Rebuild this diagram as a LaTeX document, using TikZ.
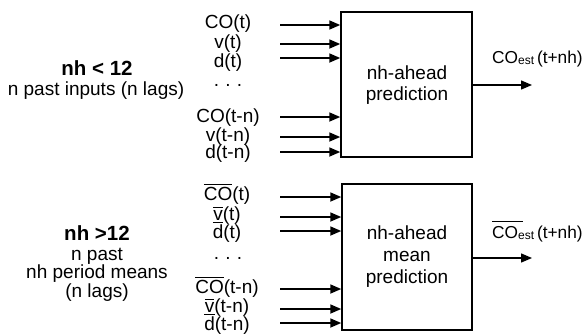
\documentclass[tikz,border=0pt]{standalone}
\usepackage{fontspec}
\setmainfont{Liberation Sans}
\usetikzlibrary{arrows.meta}
% bar over a piece of text, drawn as a rule
\newcommand{\ovl}[1]{\leavevmode\vbox{\hrule height 1.1pt\kern 1.6pt\hbox{#1}}}
% "est" index written small, just under the base line
\newcommand{\est}{\raisebox{-1.5pt}{\fontsize{12}{13}\selectfont est}}
\begin{document}
\begin{tikzpicture}[x=1pt,y=-1pt,
  txt/.style={inner sep=0pt,anchor=base,font=\fontsize{19}{21}\selectfont},
  hdr/.style={txt,font=\fontsize{20.5}{22}\selectfont\bfseries},
  outlbl/.style={inner sep=0pt,anchor=base west,font=\fontsize{17.3}{19}\selectfont},
  blk/.style={draw,line width=1.5pt,inner sep=0pt},
  inarr/.style={line width=1.7pt,-{Triangle[length=11pt,width=9pt]}},
  outarr/.style={line width=1.3pt,-{Triangle[length=11pt,width=9pt]}}]
\useasboundingbox (0,0) rectangle (585,335);

% ---------- upper block: nh < 12 ----------
\node[blk,minimum width=131pt,minimum height=145pt] (b1) at (406.5,84.5) {};
\node[txt] (b1t1) at (407,79) {nh-ahead};
\node[txt] (b1t2) at (407,100) {prediction};

\node[hdr] (h1) at (97,75) {nh < 12};
\node[txt] (h1b) at (96,95) {n past inputs (n lags)};

\node[txt] (l1) at (228,28) {CO(t)};
\node[txt] (l2) at (228,48) {v(t)};
\node[txt] (l3) at (228,67) {d(t)};
\node[txt] (l4) at (228,86) {.\,\,.\,\,.};
\node[txt] (l5) at (228,122) {CO(t-n)};
\node[txt] (l6) at (228,141) {v(t-n)};
\node[txt] (l7) at (228,158) {d(t-n)};

\foreach \n/\y in {1/25,2/44,3/58,4/117,5/137,6/152}{
  \coordinate (s\n) at (280,\y);
  \draw[inarr] (s\n) -- (s\n -| b1.west);
}
\coordinate (o1) at (532,85);
\draw[outarr] (b1.east |- o1) -- (o1);
\node[outlbl] (out1) at (492,63) {CO\est\,(t+nh)};

% ---------- lower block: nh > 12 ----------
\node[blk,minimum width=130pt,minimum height=146pt] (b2) at (407,257) {};
\node[txt] (b2t1) at (407,239) {nh-ahead};
\node[txt] (b2t2) at (407,261) {mean};
\node[txt] (b2t3) at (407,283) {prediction};

\node[hdr] (h2) at (97,240) {nh >12};
\node[txt] (h2b) at (97,260) {n past};
\node[txt] (h2c) at (97,278) {nh period means};
\node[txt] (h2d) at (97,297) {(n lags)};

\node[txt] (m1) at (227,200) {\ovl{CO}(t)};
\node[txt] (m2) at (227,220) {\ovl{v}(t)};
\node[txt] (m3) at (227,238) {\ovl{d}(t)};
\node[txt] (m4) at (228,259) {.\,\,.\,\,.};
\node[txt] (m5) at (227,293) {\ovl{CO}(t-n)};
\node[txt] (m6) at (227,312) {\ovl{v}(t-n)};
\node[txt] (m7) at (227,330) {\ovl{d}(t-n)};

\foreach \n/\y in {1/197,2/217,3/231,4/289,5/309,6/323}{
  \coordinate (t\n) at (280,\y);
  \draw[inarr] (t\n) -- (t\n -| b2.west);
}
\coordinate (o2) at (532,258);
\draw[outarr] (b2.east |- o2) -- (o2);
\node[outlbl] (out2) at (492,238)
  {\vbox{\hrule height 1pt width 31pt\kern 3pt\hbox{CO\est\,(t+nh)}}};
\end{tikzpicture}
\end{document}
